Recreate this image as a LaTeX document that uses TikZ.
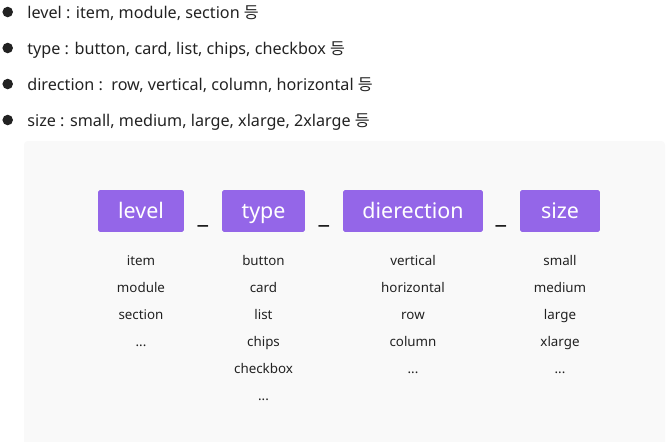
\documentclass[tikz,border=0pt]{standalone}
\usepackage{fontspec}
\setmainfont{Noto Sans}
\newfontfamily\kr{Noto Sans CJK KR}
\definecolor{boxpurple}{HTML}{9466E8}
\definecolor{panelgray}{HTML}{F9F9F9}
\definecolor{inktext}{HTML}{222222}
\newcommand{\moredots}{...}
\tikzset{
    bullet/.style={circle, fill=inktext, inner sep=0pt, minimum size=6pt},
    line/.style={anchor=base west, inner sep=0pt, text=inktext, font=\fontsize{9.2pt}{11pt}\selectfont},
    tag/.style={fill=boxpurple, rounded corners=1pt, text=white, minimum height=23.8pt, inner sep=0pt,
        text height=10.5pt, text depth=2.5pt, font=\fontsize{12.2pt}{14pt}\selectfont},
    joiner/.style={inner sep=0pt, anchor=base, text=black, font=\fontsize{13.5pt}{15pt}\selectfont\bfseries},
    choice/.style={inner sep=0pt, anchor=base, text=inktext, font=\fontsize{7.6pt}{9pt}\selectfont}
}
\begin{document}
\begin{tikzpicture}[x=0.02cm, y=-0.02cm]
    \useasboundingbox (0,0) rectangle (667,441);
    % panel
    \fill [panelgray, rounded corners=2pt] (24,141) rectangle (665,450);
    \fill [panelgray] (24,300) rectangle (665,441);
    % bullet list
    \node [bullet] (b1) at (7.7,12) {};
    \node [bullet] (b2) at (7.7,48) {};
    \node [bullet] (b3) at (7.7,84) {};
    \node [bullet] (b4) at (7.7,120) {};
    \node [line] (l1) at (27,18) {level : item, module, section {\kr 등}};
    \node [line] (l2) at (27,54) {type : button, card, list, chips, checkbox {\kr 등}};
    \node [line] (l3) at (27,90) {direction :\ \ row, vertical, column, horizontal {\kr 등}};
    \node [line] (l4) at (27,126) {size : small, medium, large, xlarge, 2xlarge {\kr 등}};
    % name parts
    \node [tag, minimum width=48.9pt] (level) at (141,211) {level};
    \node [tag, minimum width=47.2pt] (type) at (263.5,211) {type};
    \node [tag, minimum width=79.6pt] (direction) at (413,211) {dierection};
    \node [tag, minimum width=45.5pt] (size) at (560,211) {size};
    \node [joiner] (j1) at (203,223) {\_};
    \node [joiner] (j2) at (324,223) {\_};
    \node [joiner] (j3) at (501,223) {\_};
    % values
    \foreach \word [count=\i] in {item, module, section, \moredots}
        \node [choice] (level\i) at (141,238+27*\i) {\word};
    \foreach \word [count=\i] in {button, card, list, chips, checkbox, \moredots}
        \node [choice] (type\i) at (263.5,238+27*\i) {\word};
    \foreach \word [count=\i] in {vertical, horizontal, row, column, \moredots}
        \node [choice] (direction\i) at (413,238+27*\i) {\word};
    \foreach \word [count=\i] in {small, medium, large, xlarge, \moredots}
        \node [choice] (size\i) at (560,238+27*\i) {\word};
\end{tikzpicture}
\end{document}
